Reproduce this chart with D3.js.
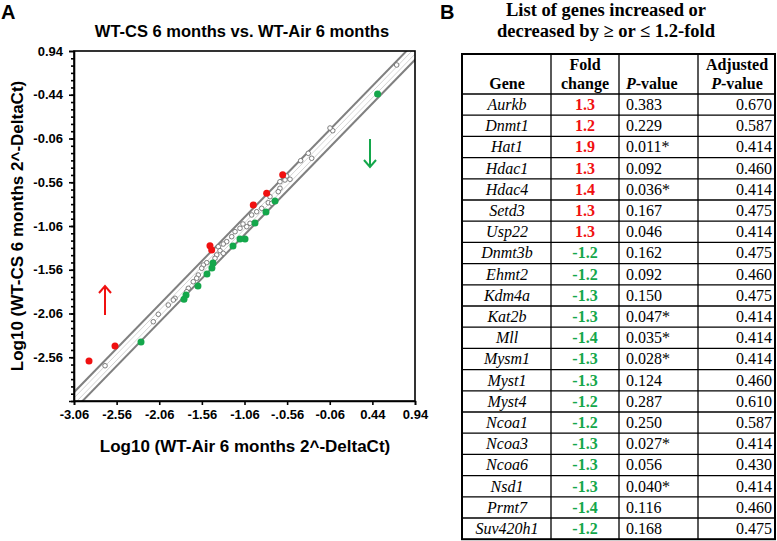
<!DOCTYPE html>
<html>
<head>
<meta charset="UTF-8">
<script src="https://d3js.org/d3.v7.min.js"></script>
<style>
  body { margin: 0; background: #fff; }
  svg { display: block; }
</style>
</head>
<body>
<div id="chart"></div>
<script>
// ---- panel A data (log10 2^-DeltaCt) ----
const grayX = [0.725, -0.025, -0.057, -0.401, -0.312, -0.272, -0.565, -0.526, -0.585, -0.644,
  -0.644, -0.664, -0.761, -0.781, -0.741, -0.858, -0.917, -0.976, -0.995, -1.034,
  -1.113, -1.171, -1.210, -1.078, -1.269, -1.309, -1.367, -1.347, -1.309, -1.386,
  -1.406, -1.503, -1.543, -1.562, -1.602, -1.621, -1.661, -1.719, -1.738, -1.875,
  -1.895, -1.954, -2.071, -2.130, -2.696];
const grayY = [0.780, 0.029, 0.060, -0.314, -0.229, -0.286, -0.489, -0.526, -0.534, -0.554,
  -0.629, -0.668, -0.725, -0.794, -0.801, -0.858, -0.897, -0.934, -1.029, -1.068,
  -1.086, -1.125, -1.182, -1.037, -1.239, -1.266, -1.297, -1.342, -1.372, -1.391,
  -1.429, -1.479, -1.506, -1.543, -1.620, -1.657, -1.697, -1.772, -1.811, -1.886,
  -1.906, -1.963, -2.069, -2.154, -2.657];
const upX = [-2.884, -2.579, -1.465, -1.445, -0.957, -0.800, -0.612];
const upY = [-2.603, -2.431, -1.285, -1.334, -0.820, -0.686, -0.474];
const downX = [0.501, -0.702, -0.808, -0.937, -1.054, -1.113, -1.195, -1.430, -1.442, -1.500,
  -1.606, -1.746, -1.770, -2.274];
const downY = [0.449, -0.774, -0.900, -1.026, -1.209, -1.209, -1.289, -1.483, -1.540, -1.609,
  -1.746, -1.849, -1.897, -2.386];
const foldLine = 0.1; // offset of the threshold lines from y = x

const xTicks = [-3.06, -2.56, -2.06, -1.56, -1.06, -0.56, -0.06, 0.44, 0.94];
const xTickLabels = ["-3.06", "-2.56", "-2.06", "-1.56", "-1.06", "-.0.56", "-0.06", "0.44", "0.94"];
const yTicks = [0.94, 0.44, -0.06, -0.56, -1.06, -1.56, -2.06, -2.56];
const yTickLabels = ["0.94", "-0.44", "-0.06", "-0.56", "-1.06", "-1.56", "-2.06", "-2.56"];

// ---- panel B data ----
const genes = ["Aurkb", "Dnmt1", "Hat1", "Hdac1", "Hdac4", "Setd3", "Usp22", "Dnmt3b", "Ehmt2",
  "Kdm4a", "Kat2b", "Mll", "Mysm1", "Myst1", "Myst4", "Ncoa1", "Ncoa3", "Ncoa6", "Nsd1",
  "Prmt7", "Suv420h1"];
const folds = ["1.3", "1.2", "1.9", "1.3", "1.4", "1.3", "1.3", "-1.2", "-1.2", "-1.3", "-1.3",
  "-1.4", "-1.3", "-1.3", "-1.2", "-1.2", "-1.3", "-1.3", "-1.3", "-1.4", "-1.2"];
const pValues = ["0.383", "0.229", "0.011*", "0.092", "0.036*", "0.167", "0.046", "0.162", "0.092",
  "0.150", "0.047*", "0.035*", "0.028*", "0.124", "0.287", "0.250", "0.027*", "0.056", "0.040*",
  "0.116", "0.168"];
const adjPValues = ["0.670", "0.587", "0.414", "0.460", "0.414", "0.475", "0.414", "0.475", "0.460",
  "0.475", "0.414", "0.414", "0.414", "0.460", "0.610", "0.587", "0.414", "0.430", "0.414",
  "0.460", "0.475"];

const RED = "#f01010", GREEN = "#14a74b";
const sans = "'Liberation Sans', Arial, sans-serif";
const serif = "'Liberation Serif', 'Times New Roman', serif";

const svg = d3.select("#chart").append("svg")
  .attr("width", 777).attr("height", 541);

// ================= Panel A =================
const x = d3.scaleLinear([-3.06, 0.94], [74, 415]);
const y = d3.scaleLinear([-3.06, 0.94], [401, 51]);

svg.append("text").attr("x", 1).attr("y", 19)
  .attr("font-family", sans).attr("font-weight", "bold").attr("font-size", 20).text("A");
svg.append("text").attr("x", 242).attr("y", 37).attr("text-anchor", "middle")
  .attr("font-family", sans).attr("font-weight", "bold").attr("font-size", 16.5)
  .text("WT-CS 6 months vs. WT-Air 6 months");

svg.append("clipPath").attr("id", "plotclip").append("rect")
  .attr("x", 74).attr("y", 51).attr("width", 341).attr("height", 350);

const lines = svg.append("g").attr("clip-path", "url(#plotclip)");
const diag = (off) => [[-3.5, -3.5 + off], [1.5, 1.5 + off]];
const lineGen = d3.line().x(d => x(d[0])).y(d => y(d[1]));
[-0.035, 0.035].forEach(o => lines.append("path").attr("d", lineGen(diag(o)))
  .attr("stroke", "#d4d4d4").attr("stroke-width", 1).attr("fill", "none"));
[-foldLine, foldLine].forEach(o => lines.append("path").attr("d", lineGen(diag(o)))
  .attr("stroke", "#808080").attr("stroke-width", 2).attr("fill", "none"));

// frame
svg.append("rect").attr("x", 74).attr("y", 51).attr("width", 341).attr("height", 350)
  .attr("fill", "none").attr("stroke", "#000").attr("stroke-width", 1.6);

// y axis
const yAxis = svg.append("g").attr("transform", "translate(74,0)")
  .call(d3.axisLeft(y).tickValues(yTicks).tickFormat((d, i) => yTickLabels[i]).tickSize(5).tickPadding(6));
const yMinor = d3.range(0, 48).map(i => -3.06 + i * 0.5 / 6);
svg.append("g").attr("transform", "translate(74,0)")
  .call(d3.axisLeft(y).tickValues(yMinor).tickFormat("").tickSize(3))
  .call(g => g.select(".domain").remove());
// x axis
const xAxis = svg.append("g").attr("transform", "translate(0,401)")
  .call(d3.axisBottom(x).tickValues(xTicks).tickFormat((d, i) => xTickLabels[i]).tickSize(4).tickPadding(5));
[yAxis, xAxis].forEach(g => {
  g.selectAll("text").attr("font-family", sans).attr("font-weight", "bold").attr("font-size", 13).attr("fill", "#000");
  g.select(".domain").attr("stroke-width", 1.6);
});
svg.selectAll(".tick line").attr("stroke-width", 1.6);

// points
const pts = svg.append("g");
pts.selectAll("circle.g").data(grayX).join("circle").attr("class", "g")
  .attr("cx", d => x(d)).attr("cy", (d, i) => y(grayY[i])).attr("r", 2.3)
  .attr("fill", "#fff").attr("stroke", "#707070").attr("stroke-width", 0.9);
pts.selectAll("circle.u").data(upX).join("circle").attr("class", "u")
  .attr("cx", d => x(d)).attr("cy", (d, i) => y(upY[i])).attr("r", 3.5).attr("fill", RED);
pts.selectAll("circle.d").data(downX).join("circle").attr("class", "d")
  .attr("cx", d => x(d)).attr("cy", (d, i) => y(downY[i])).attr("r", 3.5).attr("fill", GREEN);

// arrows
function arrow(cx, y1, y2, color) {
  const dir = y2 > y1 ? 1 : -1;
  svg.append("line").attr("x1", cx).attr("x2", cx).attr("y1", y1).attr("y2", y2)
    .attr("stroke", color).attr("stroke-width", 2);
  svg.append("path").attr("d", `M${cx - 6},${y2 - dir * 7} L${cx},${y2} L${cx + 6},${y2 - dir * 7}`)
    .attr("stroke", color).attr("stroke-width", 2).attr("fill", "none");
}
arrow(105, 315, 286, RED);
arrow(370, 139, 167, GREEN);

// axis titles
svg.append("text").attr("x", 245).attr("y", 452).attr("text-anchor", "middle")
  .attr("font-family", sans).attr("font-weight", "bold").attr("font-size", 17)
  .text("Log10 (WT-Air 6 months 2^-DeltaCt)");
svg.append("text").attr("transform", "translate(23,226) rotate(-90)").attr("text-anchor", "middle")
  .attr("font-family", sans).attr("font-weight", "bold").attr("font-size", 17)
  .text("Log10 (WT-CS 6 months 2^-DeltaCt)");

// ================= Panel B =================
svg.append("text").attr("x", 440).attr("y", 19)
  .attr("font-family", sans).attr("font-weight", "bold").attr("font-size", 20).text("B");
const tb = svg.append("g").attr("font-family", serif).attr("font-size", 16).attr("fill", "#000");
tb.append("text").attr("x", 606).attr("y", 16).attr("text-anchor", "middle")
  .attr("font-weight", "bold").attr("font-size", 18.5).text("List of genes increased or");
tb.append("text").attr("x", 606).attr("y", 37).attr("text-anchor", "middle")
  .attr("font-weight", "bold").attr("font-size", 18.5).text("decreased by \u2265 or \u2264 1.2-fold");

const colX = [462, 551, 619, 698, 775];
const tTop = 54, hBottom = 94, rowH = 21.2;
const tBottom = hBottom + genes.length * rowH;

// header
const hdr = tb.append("g").attr("font-weight", "bold");
hdr.append("text").attr("x", 507).attr("y", 89).attr("text-anchor", "middle").text("Gene");
hdr.append("text").attr("x", 585).attr("y", 70).attr("text-anchor", "middle").text("Fold");
hdr.append("text").attr("x", 585).attr("y", 89).attr("text-anchor", "middle").text("change");
const pv = hdr.append("text").attr("x", 626).attr("y", 89);
pv.append("tspan").attr("font-style", "italic").text("P");
pv.append("tspan").text("-value");
hdr.append("text").attr("x", 737).attr("y", 70).attr("text-anchor", "middle").text("Adjusted");
const apv = hdr.append("text").attr("x", 737).attr("y", 89).attr("text-anchor", "middle");
apv.append("tspan").attr("font-style", "italic").text("P");
apv.append("tspan").text("-value");

// rows
const rows = tb.selectAll("g.row").data(genes).join("g").attr("class", "row")
  .attr("transform", (d, i) => `translate(0,${hBottom + i * rowH + 16})`);
rows.append("text").attr("x", 507).attr("text-anchor", "middle").attr("font-style", "italic").text(d => d);
rows.append("text").attr("x", 585).attr("text-anchor", "middle").attr("font-weight", "bold")
  .attr("fill", (d, i) => folds[i].startsWith("-") ? GREEN : RED).text((d, i) => folds[i]);
rows.append("text").attr("x", 626).text((d, i) => pValues[i]);
rows.append("text").attr("x", 772).attr("text-anchor", "end").text((d, i) => adjPValues[i]);

// grid
const grid = svg.append("g").attr("stroke", "#000");
d3.range(genes.length).forEach(i => grid.append("line")
  .attr("x1", colX[0]).attr("x2", colX[4])
  .attr("y1", hBottom + i * rowH).attr("y2", hBottom + i * rowH).attr("stroke-width", 1.3));
colX.slice(1, 4).forEach(cx => grid.append("line").attr("x1", cx).attr("x2", cx)
  .attr("y1", tTop).attr("y2", tBottom).attr("stroke-width", 1.3));
grid.append("rect").attr("x", colX[0]).attr("y", tTop).attr("width", colX[4] - colX[0])
  .attr("height", tBottom - tTop).attr("fill", "none").attr("stroke-width", 2);
</script>
</body>
</html>
